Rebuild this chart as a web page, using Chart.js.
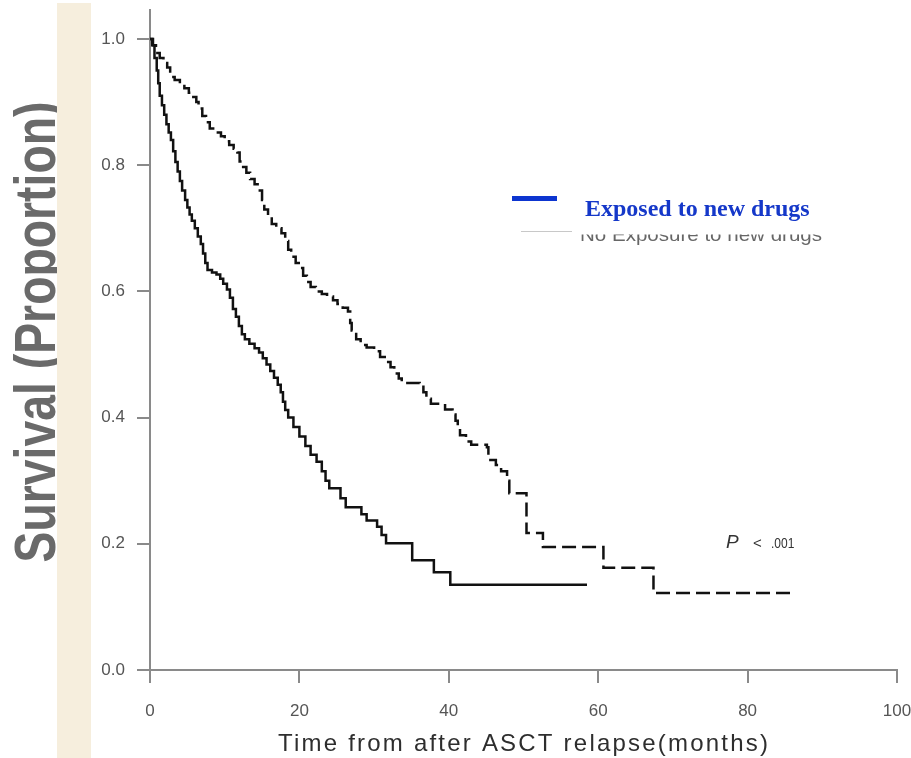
<!DOCTYPE html>
<html><head><meta charset="utf-8">
<script src="https://cdn.jsdelivr.net/npm/chart.js@4/dist/chart.umd.min.js"></script>
<style>html,body{margin:0;padding:0;background:#fff;overflow:hidden}canvas{display:block}</style>
</head><body>
<canvas id="c" width="911" height="758"></canvas>
<script>
// ---- Data ----
const exposedMonths = [0,0.4,0.8,1.3,1.8,2.3,2.7,3.3,4.0,4.6,5.2,5.8,6.2,6.5,7.0,7.5,8.0,8.8,9.5,10.0,10.6,11.2,11.7,12.0,12.3,12.9,13.4,14.0,14.7,15.0,15.3,15.8,16.3,16.9,17.6,18.1,18.5,18.9,19.5,20.1,20.5,21.0,21.5,22.2,23.0,23.7,24.5,25.1,25.8,26.5,26.8,27.0,27.6,28.2,29.0,30.0,30.8,31.6,32.2,32.7,33.3,33.7,36.1,36.6,37.0,37.6,39.5,40.5,40.9,41.2,41.5,42.3,43.0,45.1,45.3,46.3,47.0,47.8,48.1,50.4,52.6,60.7,67.4,86.3];
const exposedSurvival = [1.0,0.99,0.978,0.97,0.962,0.955,0.94,0.935,0.93,0.922,0.915,0.908,0.9,0.89,0.878,0.868,0.858,0.852,0.846,0.838,0.832,0.826,0.82,0.806,0.797,0.788,0.778,0.77,0.76,0.745,0.73,0.72,0.707,0.7,0.692,0.68,0.666,0.655,0.645,0.637,0.625,0.615,0.607,0.6,0.596,0.592,0.586,0.58,0.574,0.568,0.55,0.538,0.524,0.515,0.511,0.505,0.496,0.488,0.48,0.47,0.462,0.455,0.452,0.44,0.43,0.422,0.413,0.405,0.395,0.385,0.372,0.362,0.357,0.353,0.333,0.325,0.315,0.30,0.28,0.217,0.195,0.162,0.122,0.122];
const noExposureMonths = [0,0.3,0.6,0.9,1.1,1.3,1.6,1.9,2.2,2.5,2.8,3.1,3.4,3.7,4.0,4.3,4.7,5.0,5.3,5.6,6.0,6.4,6.8,7.1,7.4,7.7,8.3,8.9,9.4,9.8,10.3,10.7,11.1,11.5,11.9,12.3,12.7,13.3,14.0,14.6,15.1,15.6,16.1,16.6,17.1,17.5,17.8,18.1,18.5,19.2,20.0,20.8,21.5,22.3,23.0,23.5,24.0,25.5,26.2,28.3,29.0,30.4,31.0,31.6,35.1,38.0,40.2,58.5];
const noExposureSurvival = [1.0,0.99,0.97,0.95,0.93,0.91,0.895,0.88,0.865,0.852,0.84,0.822,0.805,0.79,0.775,0.76,0.745,0.733,0.722,0.712,0.70,0.687,0.675,0.66,0.645,0.634,0.63,0.627,0.62,0.612,0.603,0.59,0.572,0.56,0.545,0.532,0.524,0.517,0.51,0.503,0.494,0.484,0.474,0.463,0.452,0.44,0.425,0.412,0.40,0.385,0.37,0.355,0.341,0.33,0.315,0.30,0.288,0.272,0.258,0.247,0.237,0.227,0.214,0.201,0.174,0.155,0.135,0.135];
const xTicks = [0,20,40,60,80,100];
const yTicks = [0.0,0.2,0.4,0.6,0.8,1.0];
const seriesNames = ['Exposed to new drugs','No Exposure to new drugs'];
const xTitle = 'Time from after ASCT relapse(months)';
const yTitle = 'Survival (Proportion)';
const pLabel = 'P';
const pRest = '.001';

const toPts = (xs, ys) => xs.map((x, i) => ({x, y: ys[i]}));

const decor = {
  id: 'decor',
  beforeDraw(chart) {
    const ctx = chart.ctx;
    ctx.save();
    ctx.fillStyle = '#ffffff';
    ctx.fillRect(0, 0, chart.width, chart.height);
    ctx.restore();
  },
  afterDraw(chart) {
    const ctx = chart.ctx;
    // Y axis title (rotated, condensed)
    ctx.save();
    ctx.translate(55, 332);
    ctx.rotate(-Math.PI / 2);
    ctx.font = 'bold 57px "Liberation Sans", Arial, sans-serif';
    const w = ctx.measureText(yTitle).width;
    ctx.scale(461 / w, 1);
    ctx.fillStyle = '#6a6a6a';
    ctx.textAlign = 'center';
    ctx.textBaseline = 'alphabetic';
    ctx.fillText(yTitle, 0, 0);
    ctx.restore();
    // beige strip
    ctx.save();
    ctx.fillStyle = '#f6eedd';
    ctx.fillRect(57, 3, 34, 755);
    ctx.restore();
    // X axis title
    ctx.save();
    ctx.font = '24px "Liberation Sans Narrow", "Liberation Sans", Arial, sans-serif';
    ctx.fillStyle = '#2e2e2e';
    ctx.textBaseline = 'alphabetic';
    ctx.textAlign = 'left';
    const tw = ctx.measureText(xTitle).width;
    const sp = (490 - tw) / (xTitle.length - 1);
    ctx.letterSpacing = sp + 'px';
    ctx.fillText(xTitle, 278, 751);
    ctx.restore();
    // Legend row 1
    ctx.save();
    ctx.fillStyle = '#0d35d0';
    ctx.fillRect(512, 196, 45, 5);
    ctx.font = 'bold 24px "Liberation Serif", "Times New Roman", serif';
    ctx.fillStyle = '#1538c9';
    ctx.textBaseline = 'alphabetic';
    ctx.fillText(seriesNames[0], 585, 216);
    ctx.restore();
    // Legend row 2 (partly hidden)
    ctx.save();
    ctx.strokeStyle = '#c8c8c8';
    ctx.lineWidth = 1;
    ctx.beginPath(); ctx.moveTo(521, 231.5); ctx.lineTo(572, 231.5); ctx.stroke();
    ctx.beginPath(); ctx.rect(575, 234.5, 260, 20); ctx.clip();
    ctx.font = '19px "Liberation Sans", Arial, sans-serif';
    ctx.fillStyle = '#666';
    ctx.textBaseline = 'alphabetic';
    const w2 = ctx.measureText(seriesNames[1]).width;
    ctx.translate(580, 241);
    ctx.scale(242 / w2, 1);
    ctx.fillText(seriesNames[1], 0, 0);
    ctx.restore();
    // P value
    ctx.save();
    ctx.fillStyle = '#333';
    ctx.textBaseline = 'alphabetic';
    ctx.font = 'italic 19px "Liberation Sans", Arial, sans-serif';
    ctx.fillText(pLabel, 726, 548);
    ctx.font = '15px "Liberation Sans", Arial, sans-serif';
    ctx.fillText('<', 753, 548);
    ctx.save();
    ctx.translate(771, 548);
    ctx.scale(0.8, 1);
    ctx.fillText(pRest, 0, 0);
    ctx.restore();
    ctx.restore();
  }
};

new Chart(document.getElementById('c'), {
  type: 'line',
  data: {
    datasets: [
      {
        label: seriesNames[0],
        data: toPts(exposedMonths, exposedSurvival),
        borderColor: '#111',
        borderWidth: 2.5,
        borderDash: [14, 6],
        stepped: 'before',
        pointRadius: 0,
        fill: false,
        clip: false
      },
      {
        label: seriesNames[1],
        data: toPts(noExposureMonths, noExposureSurvival),
        borderColor: '#111',
        borderWidth: 2.5,
        stepped: 'before',
        pointRadius: 0,
        fill: false,
        clip: false
      }
    ]
  },
  options: {
    responsive: false,
    animation: false,
    devicePixelRatio: 1,
    layout: { padding: { left: 0, top: 10, right: 14, bottom: 0 } },
    plugins: { legend: { display: false }, tooltip: { enabled: false }, title: { display: false } },
    scales: {
      x: {
        type: 'linear',
        min: 0, max: 100,
        afterBuildTicks: s => { s.ticks = xTicks.map(v => ({ value: v })); },
        afterFit: s => { s.height = 88; s.paddingLeft = 0; s.paddingRight = 0; s.paddingTop = 0; s.paddingBottom = 0; },
        ticks: {
          color: '#555',
          font: { family: '"Liberation Sans Narrow", "Liberation Sans", Arial, sans-serif', size: 17 },
          padding: 18,
          maxRotation: 0,
          callback: v => String(v)
        },
        grid: { drawOnChartArea: false, drawTicks: true, tickLength: 13, color: '#8a8a8a', lineWidth: 2 },
        border: { color: '#8a8a8a', width: 2 },
        title: { display: false }
      },
      y: {
        type: 'linear',
        min: 0, max: 1.046,
        afterBuildTicks: s => { s.ticks = yTicks.map(v => ({ value: v })); },
        afterFit: s => { s.width = 150; s.paddingLeft = 0; s.paddingRight = 0; s.paddingTop = 0; s.paddingBottom = 0; },
        ticks: {
          color: '#555',
          font: { family: '"Liberation Sans", Arial, sans-serif', size: 17 },
          padding: 12,
          callback: v => Number(v).toFixed(1)
        },
        grid: { drawOnChartArea: false, drawTicks: true, tickLength: 13, color: '#8a8a8a', lineWidth: 2 },
        border: { color: '#8a8a8a', width: 2 },
        title: { display: false }
      }
    }
  },
  plugins: [decor]
});
</script>
</body></html>
